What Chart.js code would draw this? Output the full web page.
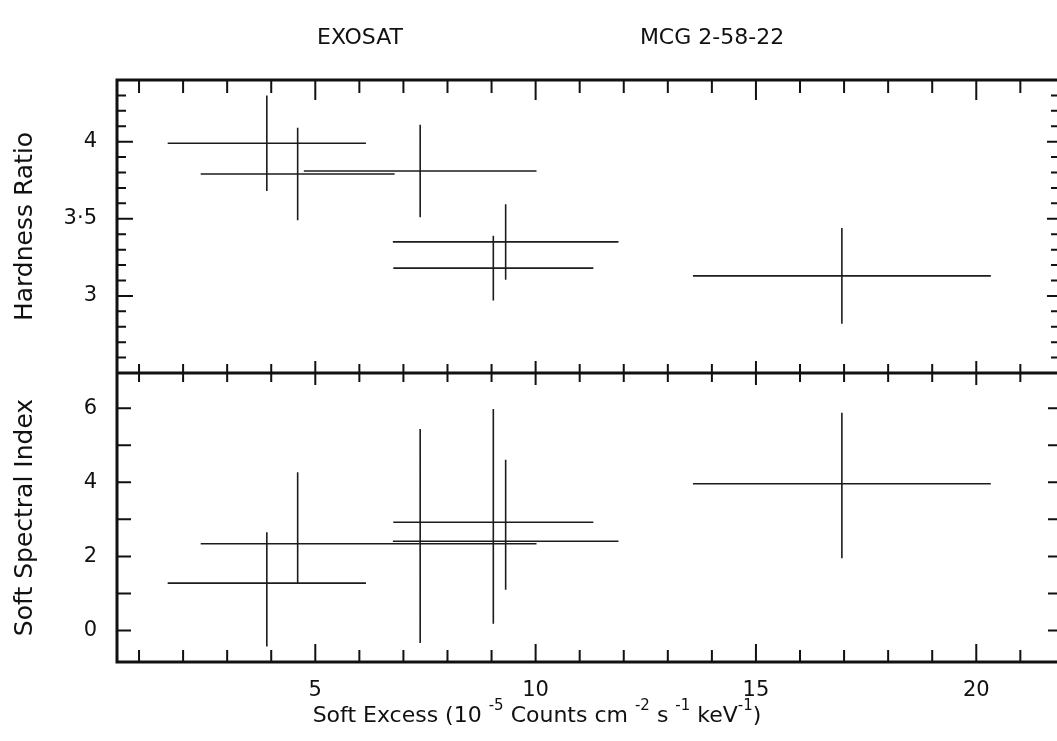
<!DOCTYPE html>
<html>
<head>
<meta charset="utf-8">
<script src="https://cdn.jsdelivr.net/npm/chart.js@4.4.1/dist/chart.umd.min.js"></script>
<style>
  html, body { margin: 0; padding: 0; background: #fff; overflow: hidden; }
  #wrap { position: relative; width: 1065px; height: 741px; }
  canvas { display: block; }
</style>
</head>
<body>
<div id="wrap"><canvas id="chart" width="1065" height="741"></canvas></div>
<script>
// soft excess (x) and its half-width, shared by both panels
const softExcess    = [3.90, 4.60, 7.38, 9.32, 9.04, 16.95];
const softExcessErr = [2.25, 2.20, 2.64, 2.56, 2.27, 3.38];

// upper panel: hardness ratio
const hardness    = [3.99, 3.79, 3.81, 3.35, 3.18, 3.13];
const hardnessErr = [0.31, 0.30, 0.30, 0.245, 0.21, 0.31];

// lower panel: soft spectral index, with the ends of each bar
const spectralIndex = [1.28, 2.34, 2.34, 2.41, 2.92, 3.96];
const spectralLow   = [-0.43, 1.28, -0.34, 1.10, 0.18, 1.95];
const spectralHigh  = [2.65, 4.27, 5.44, 4.61, 5.98, 5.88];

const hardnessTickLabels = {30: '3', 35: '3\u00b75', 40: '4'};
const spectralTickLabels = [0, 2, 4, 6];
const excessTickLabels   = [5, 10, 15, 20];

const FONT = "'DejaVu Sans', sans-serif";
const INK = '#111';
const BAR = '#1c1c1c';

// each point becomes a horizontal and a vertical segment, split by null gaps
function crosses(ys, lows, highs) {
  const pts = [];
  softExcess.forEach((x, i) => {
    const e = softExcessErr[i];
    pts.push({x: x - e, y: ys[i]}, {x: x + e, y: ys[i]}, {x: x, y: null});
    pts.push({x: x, y: lows[i]}, {x: x, y: highs[i]}, {x: x, y: null});
  });
  return pts;
}

const yTicksCommon = {
  color: INK, padding: 20, autoSkip: false, includeBounds: false,
  font: {family: FONT, size: 21}
};

// frame, middle divider and inward ticks on every side
const frame = {
  id: 'frame',
  afterDatasetsDraw(chart) {
    const {ctx, chartArea: a, scales} = chart;
    const x = scales.x, top = scales.yTop, bot = scales.yBot;
    const mid = top.bottom;
    ctx.save();
    ctx.strokeStyle = INK;
    ctx.lineWidth = 3;
    ctx.strokeRect(a.left, a.top, a.right - a.left, a.bottom - a.top);
    ctx.beginPath();
    ctx.moveTo(a.left, mid);
    ctx.lineTo(a.right, mid);
    ctx.stroke();

    ctx.lineWidth = 2;
    ctx.beginPath();
    x.ticks.forEach(t => {
      const px = x.getPixelForValue(t.value);
      const major = t.value % 5 === 0;
      ctx.moveTo(px, a.top); ctx.lineTo(px, a.top + (major ? 20 : 13));
      ctx.moveTo(px, mid - (major ? 12 : 9)); ctx.lineTo(px, mid + (major ? 12 : 9));
      ctx.moveTo(px, a.bottom); ctx.lineTo(px, a.bottom - (major ? 18 : 12));
    });
    top.ticks.forEach(t => {
      const v = Math.round(t.value * 10);
      if (v <= 25 || v >= 44) return;
      const py = top.getPixelForValue(t.value);
      const major = v % 5 === 0;
      ctx.moveTo(a.left, py); ctx.lineTo(a.left + (major ? 16 : 9), py);
      ctx.moveTo(a.right, py); ctx.lineTo(a.right - (major ? 13 : 9), py);
    });
    bot.ticks.forEach(t => {
      if (t.value <= bot.min || t.value >= bot.max) return;
      const py = bot.getPixelForValue(t.value);
      ctx.moveTo(a.left, py); ctx.lineTo(a.left + 14, py);
      ctx.moveTo(a.right, py); ctx.lineTo(a.right - 12, py);
    });
    ctx.stroke();
    ctx.restore();
  },
  afterDraw(chart) {
    const {ctx} = chart;
    ctx.save();
    ctx.fillStyle = INK;
    ctx.textBaseline = 'alphabetic';
    ctx.textAlign = 'center';
    ctx.font = `22px ${FONT}`;
    ctx.fillText('EXOSAT', 360, 44);
    ctx.fillText('MCG 2-58-22', 712, 44);

    // x-axis title with superscript exponents
    const parts = [
      ['Soft Excess (10 ', false], ['-5', true], [' Counts cm ', false], ['-2', true],
      [' s ', false], ['-1', true], [' keV', false], ['-1', true], [')', false]
    ];
    const big = `22px ${FONT}`, small = `15px ${FONT}`;
    let width = 0;
    parts.forEach(([s, sup]) => { ctx.font = sup ? small : big; width += ctx.measureText(s).width; });
    let cx = 537 - width / 2;
    const base = 722;
    ctx.textAlign = 'left';
    parts.forEach(([s, sup]) => {
      ctx.font = sup ? small : big;
      ctx.fillText(s, cx, sup ? base - 12 : base);
      cx += ctx.measureText(s).width;
    });
    ctx.restore();
  }
};

const barStyle = {
  borderColor: BAR, backgroundColor: BAR, borderWidth: 1.6,
  pointRadius: 0, spanGaps: false, tension: 0, fill: false
};

new Chart(document.getElementById('chart'), {
  type: 'line',
  data: {
    datasets: [
      Object.assign({
        label: 'Hardness Ratio',
        data: crosses(hardness,
          hardness.map((v, i) => v - hardnessErr[i]),
          hardness.map((v, i) => v + hardnessErr[i])),
        yAxisID: 'yTop'
      }, barStyle),
      Object.assign({
        label: 'Soft Spectral Index',
        data: crosses(spectralIndex, spectralLow, spectralHigh),
        yAxisID: 'yBot'
      }, barStyle)
    ]
  },
  options: {
    responsive: false,
    animation: false,
    devicePixelRatio: 1,
    layout: {padding: {top: 80, right: 5, left: 0, bottom: 0}},
    plugins: {legend: {display: false}, tooltip: {enabled: false}, title: {display: false}},
    scales: {
      x: {
        type: 'linear', min: 0.5, max: 21.9,
        grid: {display: false, drawTicks: false}, border: {display: false},
        ticks: {
          stepSize: 1, includeBounds: false, autoSkip: false, maxRotation: 0, padding: 16,
          color: INK, font: {family: FONT, size: 21},
          callback: v => excessTickLabels.includes(v) ? String(v) : ''
        },
        afterFit: s => { s.height = 79; }
      },
      yBot: {
        type: 'linear', position: 'left', stack: 'panels', stackWeight: 289, weight: 0,
        min: -0.85, max: 6.95,
        grid: {display: false, drawTicks: false}, border: {display: false},
        ticks: Object.assign({}, yTicksCommon, {
          stepSize: 1,
          callback: v => spectralTickLabels.includes(v) ? String(v) : ''
        }),
        title: {display: true, text: 'Soft Spectral Index', color: INK,
                font: {family: FONT, size: 25}, padding: {top: 10, bottom: 0}},
        afterFit: s => { s.width = 117; }
      },
      yTop: {
        type: 'linear', position: 'left', stack: 'panels', stackWeight: 293, weight: 1,
        min: 2.5, max: 4.4,
        grid: {display: false, drawTicks: false}, border: {display: false},
        ticks: Object.assign({}, yTicksCommon, {
          stepSize: 0.1,
          callback: v => hardnessTickLabels[Math.round(v * 10)] || ''
        }),
        title: {display: true, text: 'Hardness Ratio', color: INK,
                font: {family: FONT, size: 25}, padding: {top: 10, bottom: 0}},
        afterFit: s => { s.width = 117; }
      }
    }
  },
  plugins: [frame]
});
</script>
</body>
</html>
